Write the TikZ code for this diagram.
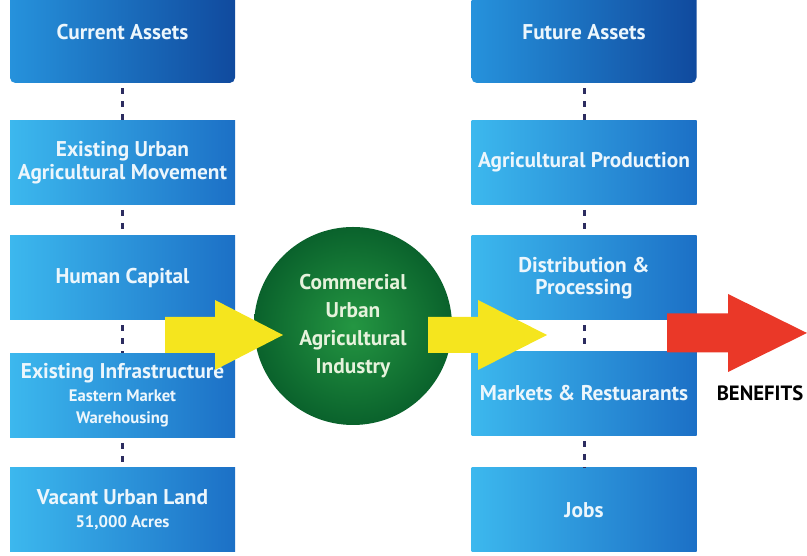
\documentclass[tikz,border=0pt]{standalone}
\usepackage{fontspec}
\setmainfont{PT Sans}
\usetikzlibrary{positioning,calc}

\definecolor{boxlight}{RGB}{60,184,238}
\definecolor{boxdark}{RGB}{28,112,198}
\definecolor{headlight}{RGB}{38,146,220}
\definecolor{headdark}{RGB}{16,74,158}
\definecolor{boxtext}{RGB}{236,246,252}
\definecolor{dotline}{RGB}{44,44,96}
\definecolor{arrowyellow}{RGB}{245,229,30}
\definecolor{arrowred}{RGB}{234,56,40}
\definecolor{ballin}{RGB}{36,150,66}
\definecolor{ballout}{RGB}{10,98,44}
\definecolor{balltext}{RGB}{230,242,220}

\newcommand{\assetnote}[1]{{\fontsize{12.5}{14.5}\selectfont #1}}

\begin{document}
\begin{tikzpicture}[x=0.75pt, y=0.75pt,
    asset/.style={rectangle, minimum width=168.75pt, minimum height=63pt,
      inner sep=2pt, align=center, left color=boxlight, right color=boxdark,
      text=boxtext, font=\bfseries\fontsize{16}{17}\selectfont},
    headasset/.style={asset, minimum height=76.5pt, rounded corners=4pt,
      left color=headlight, right color=headdark},
    link/.style={dotline, line width=2.25pt,
      dash pattern=on 4.5pt off 5.25pt, dash phase=6pt},
    hub/.style={circle, minimum size=148.5pt, inner sep=0pt, align=center,
      inner color=ballin, outer color=ballout, text=balltext,
      font=\bfseries\fontsize{16}{21}\selectfont},
    lab/.style={font=\bfseries\fontsize{15.5}{17}\selectfont, text=black}
  ]
    \useasboundingbox (0,0) rectangle (807,556);
    \clip (0,0) rectangle (807,556);

    % current assets column
    \node[headasset] (cur) at (122.5,524) {Current Assets};
    \node[asset] (urban) at (122.5,393.5) {Existing Urban\\Agricultural Movement};
    \node[asset] (human) at (122.5,278) {Human Capital};
    \node[asset] (infra) at (122.5,160.5)
      {Existing Infrastructure\\\assetnote{Eastern Market}\\\assetnote{Warehousing}};
    \node[asset] (land) at (122.5,46)
      {Vacant Urban Land\\\assetnote{51,000 Acres}};
    \draw[link] (cur) -- (urban);
    \draw[link] (urban) -- (human);
    \draw[link] (human) -- (infra);
    \draw[link] (infra) -- (land);

    % future assets column
    \node[headasset] (fut) at (584,524) {Future Assets};
    \node[asset] (prod) at (584,393.5) {Agricultural Production};
    \node[asset] (dist) at (584,278) {Distribution \&\\Processing};
    \node[asset] (mark) at (584,162.5) {Markets \& Restuarants};
    \node[asset] (jobs) at (584,46) {Jobs};
    \draw[link] (fut) -- (prod);
    \draw[link] (prod) -- (dist);
    \draw[link] (dist) -- (mark);
    \draw[link] (mark) -- (jobs);

    % industry hub
    \node[hub] (ind) at (353,230) {Commercial\\Urban\\Agricultural\\Industry};

    % block arrows
    \fill[arrowyellow] (165,203) -- (215,203) -- (215,186) -- (283,221)
      -- (215,256) -- (215,239) -- (165,239) -- cycle;
    \fill[arrowyellow] (428,203) -- (478,203) -- (478,186) -- (547,221)
      -- (478,256) -- (478,239) -- (428,239) -- cycle;
    \fill[arrowred] (667,203.5) -- (728,203.5) -- (728,184) -- (807,223)
      -- (728,262) -- (728,242.5) -- (667,242.5) -- cycle;
    \node[lab] (ben) at (760,163) {BENEFITS};
\end{tikzpicture}
\end{document}
